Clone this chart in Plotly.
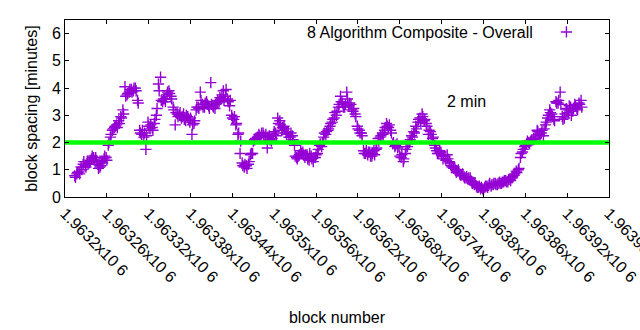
import plotly.graph_objects as go

# ---- data ----
BLOCK_START = 1963214
BLOCK_STEP = 3
# readings along the band (one every third block)
spacing_minutes = [
    0.78, 0.85, 0.92, 1.10, 1.20,
    1.15, 1.30, 1.25, 1.40, 1.45,
    1.45, 1.20, 1.10, 1.30, 1.40,
    1.45, 1.90, 2.20, 2.45, 2.55,
    2.65, 2.80, 2.95, 3.20, 4.05,
    3.75, 3.85, 3.95, 3.90, 4.00,
    3.55, 2.45, 2.30, 2.20, 1.75,
    2.75, 2.50, 2.55, 2.70, 3.00,
    4.15, 4.40, 3.50, 3.60, 3.75,
    3.90, 3.70, 3.30, 2.65, 3.05,
    3.00, 2.90, 3.05, 2.80, 2.95,
    2.75, 2.30, 2.70, 3.20, 3.30,
    3.85, 3.40, 3.30, 3.50, 3.35,
    4.20, 3.35, 3.25, 3.45, 3.50,
    3.60, 3.90, 3.70, 3.60, 3.35,
    3.00, 2.85, 2.65, 2.30, 1.60,
    1.25, 1.10, 1.15, 1.20, 1.55,
    1.60, 2.10, 2.15, 2.30, 2.20,
    2.35, 2.20, 1.80, 2.25, 2.05,
    2.30, 2.35, 2.90, 2.80, 2.45,
    2.60, 2.35, 2.40, 2.20, 2.25,
    1.90, 1.45, 1.50, 1.70, 1.65,
    1.45, 1.55, 1.35, 1.50, 1.30,
    1.45, 1.60, 1.90, 1.85, 2.20,
    2.30, 2.45, 2.60, 2.75, 2.90,
    3.00, 3.30, 3.70, 3.45, 3.30,
    3.85, 3.35, 3.40, 3.15, 3.05,
    2.60, 2.45, 2.35, 1.70, 1.60,
    1.55, 1.65, 1.50, 1.70, 1.75,
    2.15, 2.20, 2.35, 2.45, 2.70,
    2.55, 2.45, 1.95, 1.85, 1.95,
    1.85, 1.45, 1.30, 1.60, 1.85,
    2.00, 2.25, 2.40, 2.60, 2.75,
    2.90, 3.05, 2.80, 2.70, 2.30,
    2.40, 2.15, 1.90, 1.70, 1.60,
    1.65, 1.40, 1.50, 1.55, 1.30,
    1.15, 1.05, 1.00, 0.95, 0.85,
    0.80, 0.75, 0.70, 0.65, 0.70,
    0.50, 0.45, 0.40, 0.35, 0.30,
    0.30, 0.35, 0.40, 0.45, 0.40,
    0.45, 0.50, 0.45, 0.55, 0.50,
    0.55, 0.60, 0.55, 0.65, 0.70,
    0.80, 0.95, 1.00, 1.45, 1.65,
    1.85, 1.95, 2.00, 2.05, 2.10,
    2.20, 2.45, 2.30, 2.35, 2.25,
    2.65, 2.90, 3.20, 3.05, 2.85,
    3.50, 3.45, 3.85, 2.95, 2.90,
    3.25, 3.10, 3.30, 3.15, 3.40,
    3.25, 3.45, 3.55,
]
# readings for the in-between blocks (one block later), the other edge of the band
spacing_minutes_alt = [
    0.72, 0.90, 0.85, 1.00, 1.30,
    1.10, 1.20, 1.35, 1.50, 1.35,
    1.35, 1.05, 1.15, 1.25, 1.50,
    1.35, 2.00, 2.30, 2.50, 2.60,
    2.55, 2.70, 2.90, 3.05, 3.70,
    3.80, 3.95, 3.85, 4.00, 3.90,
    3.45, 2.35, 2.45, 2.35, 2.25,
    2.60, 2.65, 2.45, 2.85, 3.25,
    3.90, 3.55, 3.60, 3.50, 3.85,
    3.80, 3.60, 3.20, 3.10, 2.95,
    3.10, 2.95, 2.85, 3.00, 2.85,
    2.90, 2.65, 2.80, 3.30, 3.25,
    3.55, 3.30, 3.45, 3.40, 3.25,
    3.40, 3.30, 3.40, 3.55, 3.65,
    3.75, 3.55, 3.95, 3.50, 3.55,
    2.90, 2.95, 2.70, 2.35, 2.05,
    1.15, 1.20, 1.05, 1.30, 1.60,
    2.05, 2.15, 2.20, 2.25, 2.35,
    2.25, 2.30, 2.20, 2.10, 2.15,
    2.40, 2.25, 2.70, 2.65, 2.55,
    2.50, 2.30, 2.20, 2.35, 2.10,
    1.50, 1.40, 1.55, 1.60, 1.55,
    1.55, 1.40, 1.60, 1.40, 1.45,
    1.55, 1.75, 1.95, 2.00, 2.35,
    2.40, 2.50, 2.70, 2.85, 3.10,
    3.15, 3.40, 3.50, 3.30, 3.40,
    3.60, 3.45, 3.20, 3.25, 2.95,
    2.50, 2.35, 2.25, 1.60, 1.70,
    1.65, 1.50, 1.60, 1.55, 1.80,
    2.05, 2.25, 2.30, 2.55, 2.60,
    2.65, 2.35, 2.00, 1.90, 1.80,
    1.50, 1.55, 1.40, 1.75, 1.95,
    2.10, 2.20, 2.35, 2.50, 2.85,
    2.75, 2.95, 2.85, 2.60, 2.45,
    2.30, 2.20, 1.80, 1.60, 1.70,
    1.55, 1.50, 1.35, 1.40, 1.25,
    1.10, 1.10, 0.90, 1.00, 0.80,
    0.85, 0.70, 0.75, 0.70, 0.60,
    0.55, 0.50, 0.35, 0.40, 0.35,
    0.25, 0.40, 0.35, 0.50, 0.45,
    0.50, 0.45, 0.50, 0.50, 0.55,
    0.60, 0.55, 0.65, 0.60, 0.75,
    0.85, 0.90, 1.05, 1.60, 1.75,
    1.90, 2.05, 1.95, 2.10, 2.15,
    2.15, 2.40, 2.25, 2.45, 2.50,
    2.75, 3.00, 3.10, 2.95, 2.80,
    3.45, 3.55, 3.40, 2.85, 3.05,
    3.20, 3.35, 3.00, 3.25, 3.35,
    3.20, 3.40, 3.30,
]
blocks = []
values = []
for i, (a, b) in enumerate(zip(spacing_minutes, spacing_minutes_alt)):
    blocks += [BLOCK_START + i * BLOCK_STEP, BLOCK_START + i * BLOCK_STEP + 1]
    values += [a, b]

TARGET_MINUTES = 2
X_RANGE = [1963200, 1963980]
x_tick_vals = [1963200, 1963260, 1963320, 1963380, 1963440, 1963500, 1963560,
               1963620, 1963680, 1963740, 1963800, 1963860, 1963920, 1963980]
x_tick_text = ["1.9632x10 6", "1.96326x10 6", "1.96332x10 6", "1.96338x10 6",
               "1.96344x10 6", "1.9635x10 6", "1.96356x10 6", "1.96362x10 6",
               "1.96368x10 6", "1.96374x10 6", "1.9638x10 6", "1.96386x10 6",
               "1.96392x10 6", "1.96398x10 6"]
y_tick_vals = [0, 1, 2, 3, 4, 5, 6]

SERIES_NAME = "8 Algorithm Composite - Overall"
PURPLE = "#9400D3"
GREEN = "#00FF00"
FONT = "Liberation Sans, Arial, sans-serif"
FS = 16

marker_style = dict(symbol="cross-thin-open", size=8, color=PURPLE,
                    line=dict(color=PURPLE, width=1.4))

fig = go.Figure()
fig.add_trace(go.Scatter(
    x=blocks, y=values, mode="markers", name=SERIES_NAME,
    showlegend=False, marker=marker_style,
))
# legend sample (marker only; the text is placed to its left like gnuplot)
fig.add_trace(go.Scatter(
    x=[None], y=[None], mode="markers", name="", showlegend=True,
    marker=marker_style,
))
fig.add_trace(go.Scatter(
    x=X_RANGE, y=[TARGET_MINUTES, TARGET_MINUTES], mode="lines",
    line=dict(color=GREEN, width=4.5), showlegend=False, hoverinfo="skip",
))

axis_common = dict(showline=True, linecolor="black", linewidth=1, mirror="ticks",
                   ticks="inside", ticklen=4, tickcolor="black", showgrid=False,
                   zeroline=False, tickfont=dict(family=FONT, size=FS, color="black"))

fig.update_layout(
    width=640, height=330,
    margin=dict(l=65, r=31, t=20, b=133, autoexpand=False),
    paper_bgcolor="white", plot_bgcolor="white",
    font=dict(family=FONT, size=FS, color="black"),
    xaxis=dict(range=[X_RANGE[0] - 0.01, X_RANGE[1] + 0.01], tickmode="array",
               tickvals=x_tick_vals, ticktext=x_tick_text, tickangle=45,
               automargin=False, ticklabeloverflow="allow",
               title=dict(text="block number", standoff=27,
                          font=dict(family=FONT, size=FS, color="black")),
               **axis_common),
    yaxis=dict(range=[0, 6.5], tickmode="array", tickvals=y_tick_vals,
               automargin=False,
               title=dict(text="block spacing [minutes]", standoff=10,
                          font=dict(family=FONT, size=FS, color="black")),
               **axis_common),
    legend=dict(x=0.885, y=0.932, xanchor="left", yanchor="middle",
                bgcolor="rgba(0,0,0,0)", font=dict(family=FONT, size=FS)),
    annotations=[
        dict(text=SERIES_NAME, xref="paper", yref="paper", x=0.864, y=0.932,
             xanchor="right", yanchor="middle", showarrow=False,
             font=dict(family=FONT, size=FS, color="black")),
        dict(text="2 min", x=1963775, y=3.49, xref="x", yref="y",
             xanchor="center", yanchor="middle", showarrow=False,
             font=dict(family=FONT, size=FS, color="black")),
    ],
)

fig.write_html("out.html")
